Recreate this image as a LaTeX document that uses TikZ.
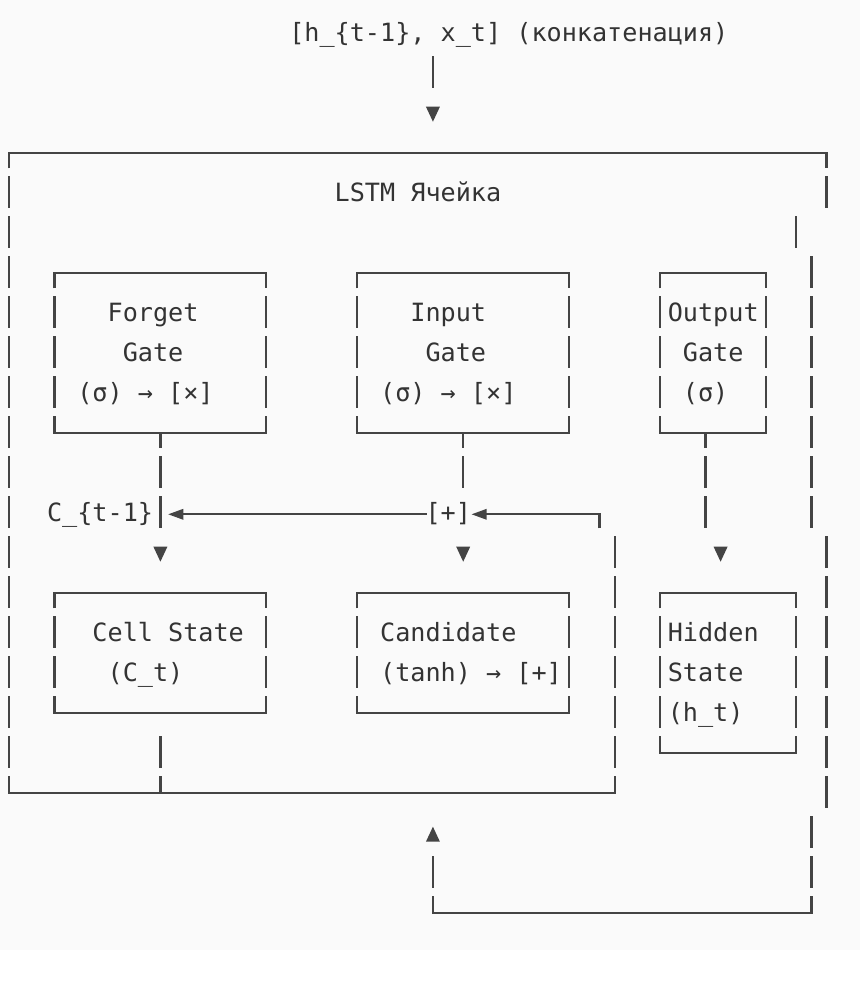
\documentclass[tikz,border=0pt]{standalone}
\usepackage{fontspec}
\newfontfamily\mono{DejaVu Sans Mono}
\usetikzlibrary{arrows.meta}
\definecolor{textc}{HTML}{333333}
\definecolor{linec}{HTML}{444444}
\definecolor{bgc}{HTML}{FAFAFA}
% vertical run of "|" glyphs in column #1 from row #2 to row #3
\newcommand\vbar[3]{\draw[bar] ({cx(#1)},{ry(#2)-17}) -- ({cx(#1)},{ry(#3)+15});}
% ascii box: name, col1,row1,col2,row2
\newcommand\abox[5]{%
  \draw[ln] ({cx(#2)},{ry(#3)+15}) -- ({cx(#2)},{ry(#3)}) -- ({cx(#4)},{ry(#3)}) -- ({cx(#4)},{ry(#3)+15});
  \draw[ln] ({cx(#2)},{ry(#5)-17}) -- ({cx(#2)},{ry(#5)}) -- ({cx(#4)},{ry(#5)}) -- ({cx(#4)},{ry(#5)-17});
  \draw[bar] ({cx(#2)},{ry(#3)+23}) -- ({cx(#2)},{ry(#5)-25});
  \draw[bar] ({cx(#4)},{ry(#3)+23}) -- ({cx(#4)},{ry(#5)-25});
  \coordinate (#1) at ({(cx(#2)+cx(#4))/2},{(ry(#3)+ry(#5))/2});}
\newcommand\tridown[2]{\fill[linec] ({cx(#1)-7},{ry(#2)-6.6}) -- ({cx(#1)+7},{ry(#2)-6.6}) -- ({cx(#1)},{ry(#2)+8.4}) -- cycle;}
\newcommand\triup[2]{\fill[linec] ({cx(#1)-7},{ry(#2)+8.4}) -- ({cx(#1)+7},{ry(#2)+8.4}) -- ({cx(#1)},{ry(#2)-6.6}) -- cycle;}
% left-pointing tip with its point at x=#1 on row #2
\newcommand\trileft[2]{\fill[linec] (#1,{ry(#2)+1}) -- ({#1+15},{ry(#2)-4.5}) -- ({#1+15},{ry(#2)+6.5}) -- cycle;}
\newcommand\tx[4]{\node[txt] (#1) at ({cx(#2)-7.57},{ry(#3)+8.4}) {#4};}
\begin{document}
\begin{tikzpicture}[x=1pt,y=-1pt,
  declare function={cx(\c)=9+15.14*\c; ry(\r)=33.3+40*\r;},
  ln/.style={draw=linec, line width=2.2pt},
  bar/.style={ln, dash pattern=on 32pt off 8pt},
  txt/.style={inner sep=0pt, anchor=base west, text=textc, font=\mono\fontsize{25.15}{30}\selectfont}]
\fill[bgc] (0,0) rectangle (860,950);
\fill[white] (0,950) rectangle (860,984);
\useasboundingbox (0,0) rectangle (860,984);

% input text and arrow into the cell
\tx{concat}{19}{0}{[h\_\{t-1\}, x\_t] (конкатенация)}
\vbar{28}{1}{1}
\tridown{28}{2}

% outer LSTM box
\draw[ln] ({cx(0)},{ry(3)+15}) -- ({cx(0)},{ry(3)}) -- ({cx(54)},{ry(3)}) -- ({cx(54)},{ry(3)+15});
\vbar{54}{4}{4}
\vbar{52}{5}{5}
\vbar{53}{6}{12}
\vbar{54}{13}{19}
\vbar{0}{4}{18}
\draw[ln] ({cx(0)},{ry(19)-17}) -- ({cx(0)},{ry(19)}) -- ({cx(40)},{ry(19)}) -- ({cx(40)},{ry(19)-17});
\draw[ln] ({cx(10)},{ry(19)-17}) -- ({cx(10)},{ry(19)});
\vbar{40}{13}{18}
\vbar{10}{18}{18}
\tx{title}{22}{4}{LSTM Ячейка}

% loop back
\triup{28}{20}
\vbar{53}{20}{21}
\vbar{28}{21}{21}
\draw[ln] ({cx(53)},{ry(22)-17}) -- ({cx(53)},{ry(22)}) -- ({cx(28)},{ry(22)}) -- ({cx(28)},{ry(22)-17});

% boxes
\abox{forget}{3}{6}{17}{10}
\abox{input}{23}{6}{37}{10}
\abox{output}{43}{6}{50}{10}
\abox{cell}{3}{14}{17}{17}
\abox{cand}{23}{14}{37}{17}
\abox{hidden}{43}{14}{52}{18}

\tx{fA}{7}{7}{Forget}
\tx{fB}{8}{8}{Gate}
\tx{fC}{5}{9}{(σ) → [×]}
\tx{iA}{27}{7}{Input}
\tx{iB}{28}{8}{Gate}
\tx{iC}{25}{9}{(σ) → [×]}
\tx{oA}{44}{7}{Output}
\tx{oB}{45}{8}{Gate}
\tx{oC}{45}{9}{(σ)}
\tx{cA}{6}{15}{Cell State}
\tx{cB}{7}{16}{(C\_t)}
\tx{kA}{25}{15}{Candidate}
\tx{kB}{25}{16}{(tanh) → [+]}
\tx{hA}{44}{15}{Hidden}
\tx{hB}{44}{16}{State}
\tx{hC}{44}{17}{(h\_t)}
\tx{cprev}{3}{12}{C\_\{t-1\}}
\tx{plus}{28}{12}{[+]}

% gate outputs downward
\draw[ln] ({cx(10)},{ry(10)}) -- ({cx(10)},{ry(10)+15});
\vbar{10}{11}{12}
\tridown{10}{13}
\draw[ln] ({cx(30)},{ry(10)}) -- ({cx(30)},{ry(10)+15});
\vbar{30}{11}{11}
\tridown{30}{13}
\draw[ln] ({cx(46)},{ry(10)}) -- ({cx(46)},{ry(10)+15});
\vbar{46}{11}{12}
\tridown{47}{13}

% horizontal arrows
\coordinate (plusL) at (426.7,{ry(12)+1});
\coordinate (cbarbase) at (182,{ry(12)+1});
\coordinate (plusRbase) at (485,{ry(12)+1});
\coordinate (candUp) at ({cx(39)},{ry(12)+15});
\draw[ln] (plusL) -- (cbarbase);
\trileft{168.3}{12}
\draw[ln] (candUp) -- ({cx(39)},{ry(12)+1}) -- (plusRbase);
\trileft{471.7}{12}
\end{tikzpicture}
\end{document}
